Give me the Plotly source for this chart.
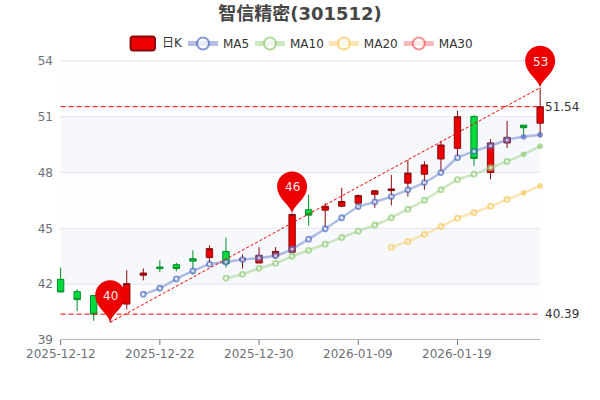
import plotly.graph_objects as go

dates = ["2025-12-12","2025-12-15","2025-12-16","2025-12-17","2025-12-18","2025-12-19","2025-12-22","2025-12-23","2025-12-24","2025-12-25",
         "2025-12-26","2025-12-29","2025-12-30","2025-12-31","2026-01-05","2026-01-06","2026-01-07","2026-01-08","2026-01-09","2026-01-12",
         "2026-01-13","2026-01-14","2026-01-15","2026-01-16","2026-01-19","2026-01-20","2026-01-21","2026-01-22","2026-01-23","2026-01-26"]
tick_dates = ["2025-12-12","2025-12-22","2025-12-30","2026-01-09","2026-01-19"]
opens  = [42.26,41.60,41.39,40.35,40.93,42.48,42.92,43.05,43.37,43.43,43.76,43.30,43.14,43.50,43.72,46.00,45.98,46.19,46.35,46.83,47.03,47.43,47.91,48.73,49.30,51.01,48.00,49.59,50.55,50.65]
closes = [41.58,41.17,40.39,41.45,42.03,42.60,42.84,42.84,43.24,43.91,43.10,43.35,43.55,43.76,45.75,45.71,46.19,46.44,46.76,47.02,47.12,47.97,48.41,49.48,51.00,48.76,49.59,49.89,50.41,51.54]
highs  = [42.89,41.73,41.39,41.65,42.75,42.85,43.28,43.15,43.82,44.09,44.50,43.60,43.99,43.99,45.80,46.80,46.37,47.18,46.82,47.07,47.87,48.67,48.60,49.71,51.32,51.10,49.80,50.78,50.55,52.56]
lows   = [41.58,40.55,40.03,39.95,40.64,42.21,42.65,42.69,42.52,43.12,42.89,42.84,43.14,43.37,43.65,45.15,45.07,46.14,46.05,46.10,46.23,46.71,47.07,48.02,48.82,48.35,47.64,49.32,49.95,49.89]
N = None
ma5  = [N,N,N,N,N,41.46,41.78,42.28,42.71,43.08,43.19,43.32,43.41,43.53,43.89,44.42,44.98,45.57,46.17,46.42,46.71,47.07,47.46,48.00,48.80,49.14,49.44,49.75,49.92,50.03]
ma10 = [N]*10 + [42.33,42.53,42.85,43.12,43.50,43.82,44.15,44.51,44.85,45.18,45.57,46.03,46.51,47.08,47.62,47.91,48.26,48.60,48.98,49.42]
ma20 = [N]*20 + [43.98,44.30,44.68,45.10,45.55,45.85,46.19,46.55,46.91,47.28]
ma30 = [N]*30
y_ticks = [39,42,45,48,51,54]
max_line = 51.54
min_line = 40.39
pin_low = (3, 39.95, "40")
pin_mid = (14, 45.80, "46")
pin_high = (29, 52.56, "53")

W, H = 600, 400
X0, X1 = 60.5, 540.5
Y0, Y1 = 60.5, 340.5
PLOT_TOP = 30.5  # plot area reaches above the top tick so the highest pin is not clipped
step = (X1 - X0) / (len(dates) - 1)
PAD_L, PAD_R = 0.4, 1.2  # room so candles and the last pin are not clipped
plot_l, plot_r = X0 - PAD_L * step, X1 + PAD_R * step
xs = list(range(len(dates)))
y_top = y_ticks[-1] + (Y0 - PLOT_TOP) * (y_ticks[-1] - y_ticks[0]) / (Y1 - Y0)

fig = go.Figure()
fig.add_trace(go.Candlestick(
    x=xs, open=opens, high=highs, low=lows, close=closes, name="日K", showlegend=False,
    increasing=dict(fillcolor="#ec0000", line=dict(color="#8a0a0a", width=1)),
    decreasing=dict(fillcolor="#00da3c", line=dict(color="#008f28", width=1)),
    whiskerwidth=0, hoverinfo="skip"))

ma_styles = [("MA5", ma5, "84,112,198", "#5470c6", 183), ("MA10", ma10, "145,204,117", "#91cc75", 250),
             ("MA20", ma20, "250,200,88", "#fac858", 324), ("MA30", ma30, "238,102,102", "#ee6666", 399)]
for k, (name, vals, rgb, col, lx) in enumerate(ma_styles):
    lname = "legend" if k == 0 else f"legend{k+1}"
    n = len(vals)
    fills = ["#ffffff"] * (n - 2) + [col, col]
    sizes = [5] * (n - 2) + [4, 4]
    fig.add_trace(go.Scatter(
        x=xs, y=[float("nan") if v is None else v for v in vals], name=name, mode="lines+markers",
        line=dict(color=f"rgba({rgb},0.45)", width=2.5, shape="spline", smoothing=0.5),
        marker=dict(size=sizes, color=fills, line=dict(color=col, width=1.8)),
        legend=lname, hoverinfo="skip"))

# Line between min and max pins
fig.add_trace(go.Scatter(
    x=[pin_low[0], pin_high[0]], y=[pin_low[1], pin_high[1]], mode="lines",
    line=dict(color="#ee0000", width=1, dash="3px,2px"), showlegend=False, hoverinfo="skip"))

shapes = []
band_cols = ["rgba(250,250,250,0.2)", "rgba(210,219,238,0.2)"]
for i in range(len(y_ticks) - 1):
    shapes.append(dict(type="rect", xref="x", yref="y", x0=xs[0], x1=xs[-1], y0=y_ticks[i], y1=y_ticks[i+1],
                       fillcolor=band_cols[i % 2], line_width=0, layer="below"))
for t in y_ticks[1:]:
    shapes.append(dict(type="line", xref="x", yref="y", x0=xs[0], x1=xs[-1], y0=t, y1=t,
                       line=dict(color="#e0e6f1", width=1), layer="below"))
shapes.append(dict(type="line", xref="x", yref="y", x0=xs[0], x1=xs[-1], y0=y_ticks[0], y1=y_ticks[0],
                   line=dict(color="#6e7079", width=1), layer="below"))
for v in (max_line, min_line):
    shapes.append(dict(type="line", xref="x", yref="y", x0=xs[0], x1=xs[-1], y0=v, y1=v,
                       line=dict(color="#ee0000", width=1, dash="5px,3px")))
# pins, anchored at the data point, drawn in pixel offsets (up is positive)
PIN = "M0,0 C-1.5,8 -15,15 -15,27 C-15,35.3 -8.3,42 0,42 C8.3,42 15,35.3 15,27 C15,15 1.5,8 0,0 Z"
annotations = []
for (i, v, label) in (pin_low, pin_mid, pin_high):
    shapes.append(dict(type="path", xref="x", yref="y", xsizemode="pixel", ysizemode="pixel",
                       xanchor=i, yanchor=v, path=PIN, fillcolor="#ec0000", line_width=0, layer="above"))
    annotations.append(dict(x=i, y=v, xref="x", yref="y", text=label, showarrow=False, yshift=26,
                            font=dict(size=12, color="#eeeeee", family="DejaVu Sans")))
for v in (max_line, min_line):
    annotations.append(dict(x=xs[-1], y=v, xref="x", yref="y", text=f"{v:.2f}", showarrow=False, xanchor="left",
                            xshift=3, font=dict(size=12, color="#333333", family="DejaVu Sans")))
for d in tick_dates:
    i = dates.index(d)
    annotations.append(dict(x=i, y=y_ticks[0], xref="x", yref="y", text=d, showarrow=False, yanchor="top", yshift=-5,
                            font=dict(size=12, color="#6e7079", family="DejaVu Sans")))

def px(v):
    return (v - plot_l) / (plot_r - plot_l)
def py(v):
    return (Y1 - v) / (Y1 - PLOT_TOP)

# x tick marks
for d in tick_dates:
    i = dates.index(d)
    shapes.append(dict(type="line", xref="x", yref="paper", x0=i, x1=i, y0=0, y1=-5 / (Y1 - PLOT_TOP),
                       line=dict(color="#6e7079", width=1), layer="below"))

# 日K legend entry
shapes.append(dict(type="path", xref="paper", yref="paper",
                   path=f"M{px(133)},{py(36)} L{px(152)},{py(36)} Q{px(155)},{py(36)} {px(155)},{py(39)} L{px(155)},{py(47)} "
                        f"Q{px(155)},{py(50)} {px(152)},{py(50)} L{px(133)},{py(50)} Q{px(130.5)},{py(50)} {px(130.5)},{py(47)} "
                        f"L{px(130.5)},{py(39)} Q{px(130.5)},{py(36)} {px(133)},{py(36)} Z",
                   fillcolor="#ec0000", line=dict(color="#8a0a0a", width=2)))
annotations.append(dict(xref="paper", yref="paper", x=px(160), y=py(43), text="日K", showarrow=False,
                        xanchor="left", yanchor="middle", font=dict(size=12, color="#333333", family="DejaVu Sans, Noto Sans CJK SC")))

layout = dict(
    width=W, height=H, autosize=False, paper_bgcolor="#ffffff", plot_bgcolor="rgba(0,0,0,0)",
    margin=dict(l=plot_l, r=W - plot_r, t=PLOT_TOP, b=H - Y1, pad=0),
    title=dict(text="<b>智信精密(301512)</b>", x=0.5, xref="container", xanchor="center", y=1 - 14/H, yanchor="middle",
               font=dict(size=18, color="#464646", family="DejaVu Sans, Noto Sans CJK SC")),
    font=dict(family="DejaVu Sans, Noto Sans CJK SC", size=12, color="#333333"),
    xaxis=dict(range=[xs[0] - PAD_L, xs[-1] + PAD_R], showgrid=False, zeroline=False, showticklabels=False, ticks="",
               showline=False, rangeslider=dict(visible=False), fixedrange=True),
    yaxis=dict(range=[y_ticks[0], y_top], tickvals=y_ticks, showgrid=False, zeroline=False, showline=False, ticks="",
               tickfont=dict(size=12, color="#6e7079"), fixedrange=True),
    shapes=shapes, annotations=annotations, boxgap=0.45, hovermode=False,
)
for k, (name, vals, rgb, col, lx) in enumerate(ma_styles):
    lname = "legend" if k == 0 else f"legend{k+1}"
    layout[lname] = dict(x=px(lx), xref="paper", xanchor="left", y=py(43), yanchor="middle", yref="paper",
                         orientation="h", bgcolor="rgba(0,0,0,0)", font=dict(size=12, color="#333333"),
                         itemwidth=30, itemsizing="constant")
fig.update_layout(**layout)
fig.write_html("out.html", config=dict(displayModeBar=False), post_script="document.body.style.margin='0';")
